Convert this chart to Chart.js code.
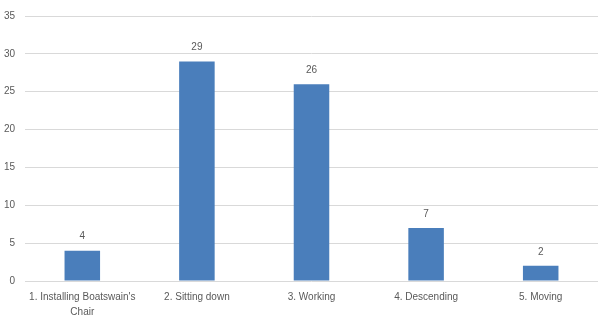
<!DOCTYPE html>
<html>
<head>
<meta charset="utf-8">
<script src="https://cdn.jsdelivr.net/npm/chart.js@4/dist/chart.umd.min.js"></script>
<style>
  html, body { margin: 0; padding: 0; background: #fff; }
  #wrap { width: 598px; height: 321px; }
</style>
</head>
<body>
<div id="wrap"><canvas id="c"></canvas></div>
<script>
const categories = [
  ["1. Installing Boatswain's", "Chair"],
  "2. Sitting down",
  "3. Working",
  "4. Descending",
  "5. Moving"
];
const counts = [4, 29, 26, 7, 2];
const yTicks = [0, 5, 10, 15, 20, 25, 30, 35];

const FONT = "'Liberation Sans Narrow', 'Liberation Sans', Arial, sans-serif";
const TEXT = '#595959';

// Value labels above each bar
const valueLabels = {
  id: 'valueLabels',
  afterDatasetsDraw(chart) {
    const ctx = chart.ctx;
    const meta = chart.getDatasetMeta(0);
    ctx.save();
    ctx.font = '10px ' + FONT;
    ctx.fillStyle = TEXT;
    ctx.textAlign = 'center';
    ctx.textBaseline = 'bottom';
    meta.data.forEach((bar, i) => {
      ctx.fillText(String(counts[i]), bar.x, bar.y - 9);
    });
    ctx.restore();
  }
};

new Chart(document.getElementById('c'), {
  type: 'bar',
  data: {
    labels: categories,
    datasets: [{
      data: counts,
      backgroundColor: '#4a7ebb',
      borderWidth: 0,
      barPercentage: 0.31,
      categoryPercentage: 1.0
    }]
  },
  options: {
    responsive: true,
    maintainAspectRatio: false,
    animation: false,
    layout: { padding: { top: 7, right: 0, bottom: 0, left: 0 } },
    plugins: { legend: { display: false }, tooltip: { enabled: false } },
    scales: {
      x: {
        grid: { display: false, drawTicks: false },
        border: { display: false },
        ticks: { color: TEXT, font: { family: FONT, size: 10, lineHeight: 1.5 }, padding: 9, maxRotation: 0, autoSkip: false },
        afterFit(s) { s.height = 40; }
      },
      y: {
        min: 0, max: 35,
        afterBuildTicks(s) { s.ticks = yTicks.map(v => ({ value: v })); },
        grid: { color: '#d9d9d9', lineWidth: 1, drawTicks: false },
        border: { display: false },
        ticks: { color: TEXT, font: { family: FONT, size: 10 }, padding: 10 },
        afterFit(s) { s.width = 25; }
      }
    }
  },
  plugins: [valueLabels]
});
</script>
</body>
</html>
